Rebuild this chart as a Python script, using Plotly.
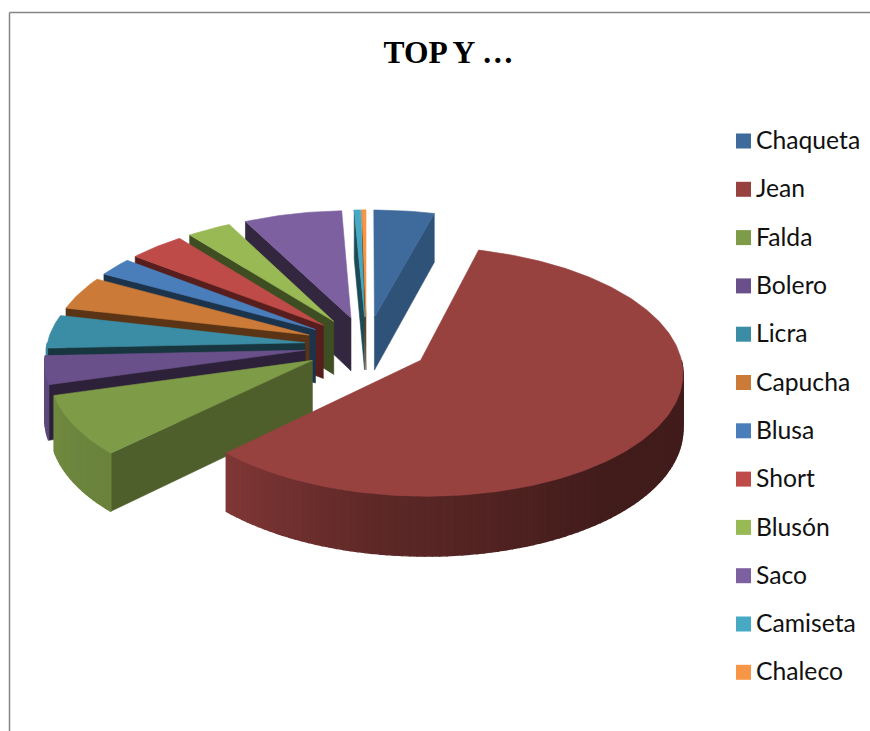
import numpy as np
import plotly.graph_objects as go

# Share of each garment, in percent
categories = ["Chaqueta", "Jean", "Falda", "Bolero", "Licra", "Capucha",
              "Blusa", "Short", "Blusón", "Saco", "Camiseta", "Chaleco"]
values = [4.17, 58.44, 7.94, 3.75, 4.39, 4.42, 2.44, 3.89, 3.06, 6.78, 0.44, 0.28]

top_colors = ["#3E6A9C", "#984240", "#7E9B48", "#69508A", "#3B8DA6", "#CB7A37",
              "#4A7EBB", "#BE4B48", "#98B954", "#7D60A0", "#46AAC5", "#F79646"]
wall_colors = ["#2F5279", "#5A2423", "#4E5F2B", "#2D2139", "#17363F", "#5A3415",
               "#1C334C", "#571E1D", "#3F4D22", "#33263F", "#1E4A56", "#6E4118"]

# Projection of the tilted pie onto the page (pixel axes)
CX, CY = 366.5, 345.5
RADIUS, EXPLODE, DEPTH = 258.0, 62.0, 54.0
TILT, PERSPECTIVE = 0.47, 0.00034


def project(x, y, z=0.0):
    s = 1.0 / (1.0 - PERSPECTIVE * np.asarray(y, dtype=float))
    return CX + np.asarray(x) * s, CY + (TILT * np.asarray(y) + z) * s


def lighten(hex_color, factor):
    rgb = [int(hex_color[i:i + 2], 16) for i in (1, 3, 5)]
    return "rgb({},{},{})".format(*[int(c * factor) for c in rgb])


def polygon(fig, xs, ys, color, stroke=0.6):
    fig.add_trace(go.Scatter(x=xs, y=ys, mode="lines", fill="toself", fillcolor=color,
                             line=dict(color=color, width=stroke), hoverinfo="skip",
                             showlegend=False))


def rim_shade(theta):
    return float(np.interp(theta, [90, 140, 190, 225, 270], [0.43, 0.43, 0.62, 0.84, 0.92]))


fig = go.Figure()

total = sum(values)
edges = np.concatenate([[0.0], np.cumsum(values) / total * 360.0])

# Paint from the back of the pie round to the large front slice
for i in [0, 11, 10, 9, 8, 7, 6, 5, 4, 3, 2, 1]:
    start, end = edges[i], edges[i + 1]
    mid = np.radians((start + end) / 2)
    ox, oy = EXPLODE * np.sin(mid), -EXPLODE * np.cos(mid)

    def rim(theta_deg):
        t = np.radians(theta_deg)
        return ox + RADIUS * np.sin(t), oy - RADIUS * np.cos(t)

    # Cut faces that turn towards the viewer
    for boundary, visible in ((start, np.sin(np.radians(start)) < 0),
                              (end, np.sin(np.radians(end)) > 0)):
        if visible:
            rx, ry = rim(boundary)
            wx = np.array([ox, rx, rx, ox, ox])
            wy = np.array([oy, ry, ry, oy, oy])
            wz = np.array([0, 0, DEPTH, DEPTH, 0])
            px, py = project(wx, wy, wz)
            polygon(fig, px, py, wall_colors[i])

    # Outer wall, built from thin strips so its shading can vary
    lo, hi = max(start, 90.0), min(end, 270.0)
    if hi > lo:
        steps = max(1, int((hi - lo) / 1.5))
        bounds = np.linspace(lo, hi, steps + 1)
        for a, b in zip(bounds[:-1], bounds[1:]):
            arc = np.linspace(a, b, 3)
            rx, ry = rim(arc)
            tx, ty = project(rx, ry, 0.0)
            bx, by = project(rx, ry, DEPTH)
            xs = np.concatenate([tx, bx[::-1], tx[:1]])
            ys = np.concatenate([ty, by[::-1], ty[:1]])
            polygon(fig, xs, ys, lighten(top_colors[i], rim_shade((a + b) / 2)), stroke=1.4)

    # Upper face
    arc = np.linspace(start, end, max(8, int(end - start)))
    rx, ry = rim(arc)
    fx, fy = project(np.concatenate([[ox], rx, [ox]]), np.concatenate([[oy], ry, [oy]]))
    polygon(fig, fx, fy, top_colors[i])

# Legend column, swatch and label per category
legend_top, legend_step = 141.0, 48.3
legend_y = [legend_top + legend_step * k for k in range(len(categories))]
fig.add_trace(go.Scatter(x=[743.5] * len(categories), y=legend_y, mode="markers",
                         marker=dict(symbol="square", size=15, color=top_colors, line=dict(width=0)),
                         hoverinfo="skip", showlegend=False))
fig.add_trace(go.Scatter(x=[756] * len(categories), y=[v + 2 for v in legend_y], mode="text",
                         text=categories, textposition="middle right",
                         textfont=dict(family="Lato", size=24.7, color="#111111"),
                         hoverinfo="skip", showlegend=False))

fig.update_layout(
    width=870, height=731, margin=dict(l=0, r=0, t=0, b=0),
    paper_bgcolor="white", plot_bgcolor="white", showlegend=False,
    title=dict(text="<b>TOP Y …</b>", x=448.5 / 870, y=1 - 52 / 731, xref="paper", yref="paper",
               xanchor="center", yanchor="middle",
               font=dict(family="Liberation Serif", size=31.5, color="black")),
    xaxis=dict(range=[0, 870], visible=False, fixedrange=True),
    yaxis=dict(range=[731, 0], visible=False, fixedrange=True),
    shapes=[dict(type="line", xref="x", yref="y", x0=9.5, y0=731, x1=9.5, y1=12.5,
                 line=dict(color="#868686", width=1.5)),
            dict(type="line", xref="x", yref="y", x0=9.5, y0=12.5, x1=870, y1=12.5,
                 line=dict(color="#868686", width=1.5))],
)

fig.write_html("out.html")
